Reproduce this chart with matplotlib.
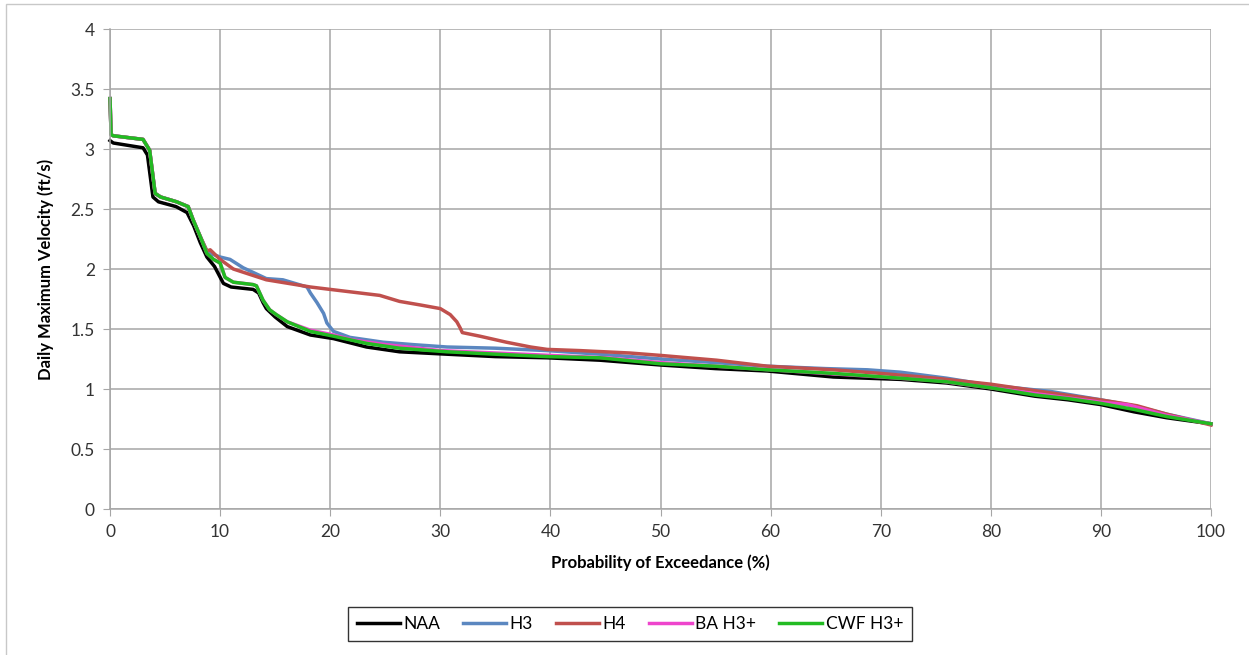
import matplotlib.pyplot as plt
from matplotlib.patches import Rectangle

# exceedance curves
naa_x = [0, 0.3, 3.0, 3.4, 3.9, 4.4, 6, 7, 7.6, 8.2, 8.8, 9.5, 10.3, 11, 13, 13.5, 13.9, 14.2, 15, 16.1, 17,
         18.2, 20.3, 23.3, 26.3, 30.6, 35, 39.7, 44.5, 50, 55, 59.7, 65.7, 71.8, 76, 80, 84, 87, 90, 93, 96, 100]
naa_y = [3.07, 3.05, 3.01, 2.95, 2.6, 2.56, 2.52, 2.47, 2.36, 2.22, 2.1, 2.02, 1.88, 1.85, 1.83, 1.80, 1.72, 1.67,
         1.6, 1.52, 1.49, 1.45, 1.42, 1.35, 1.31, 1.29, 1.27, 1.26, 1.24, 1.20, 1.17, 1.15, 1.10, 1.08, 1.05, 1.0,
         0.94, 0.91, 0.87, 0.81, 0.76, 0.71]

h3_x = [0, 0.1, 0.3, 3.0, 3.6, 4.1, 4.6, 6.05, 7.1, 7.55, 8.2, 8.8, 9.1, 10.0, 10.9, 12.1, 14.2, 15.7, 17.9, 18.2,
        18.8, 19.4, 19.7, 20.3, 21.8, 24.8, 27.5, 30.6, 35, 39.7, 44.5, 50, 55, 59.7, 65, 68.8, 71.8, 76, 80, 85.4,
        88, 90, 93, 96, 100]
h3_y = [3.42, 3.12, 3.11, 3.08, 2.99, 2.63, 2.6, 2.56, 2.52, 2.41, 2.27, 2.15, 2.13, 2.10, 2.08, 2.01, 1.92, 1.91,
        1.85, 1.80, 1.72, 1.63, 1.55, 1.48, 1.43, 1.39, 1.37, 1.35, 1.34, 1.32, 1.29, 1.25, 1.22, 1.19, 1.17, 1.16,
        1.14, 1.09, 1.03, 0.98, 0.94, 0.91, 0.86, 0.79, 0.71]

h4_x = [0, 0.1, 0.3, 3.0, 3.6, 4.1, 4.6, 6.05, 7.1, 7.55, 8.2, 8.8, 9.1, 10.0, 11.2, 14.2, 18.2, 21.8, 24.5, 26.3,
        28.2, 30.0, 30.9, 31.5, 31.8, 32.0, 33.6, 36.0, 38.2, 39.7, 42.7, 47.2, 50, 55.1, 59.7, 65.7, 70, 75, 80,
        86, 89.9, 92, 93.3, 96, 100]
h4_y = [3.42, 3.12, 3.11, 3.08, 2.99, 2.63, 2.6, 2.56, 2.52, 2.41, 2.27, 2.15, 2.16, 2.08, 2.0, 1.91, 1.85, 1.81,
        1.78, 1.73, 1.70, 1.67, 1.62, 1.56, 1.51, 1.47, 1.44, 1.39, 1.35, 1.33, 1.32, 1.30, 1.28, 1.24, 1.19, 1.16,
        1.13, 1.09, 1.04, 0.96, 0.91, 0.88, 0.86, 0.79, 0.70]

ba_x = [0, 0.1, 0.3, 3.0, 3.6, 4.1, 4.6, 6.05, 7.1, 7.55, 8.2, 8.8, 9.4, 10.0, 10.45, 11.2, 13.0, 13.3, 13.9, 14.5,
        15.1, 16.1, 18.2, 20.3, 22, 25, 30, 35, 40, 45, 50, 55, 60, 65, 70, 75, 80, 85, 90, 92.4, 94, 96, 100]
ba_y = [3.42, 3.12, 3.11, 3.08, 2.99, 2.63, 2.6, 2.56, 2.52, 2.41, 2.27, 2.13, 2.08, 2.05, 1.93, 1.89, 1.87, 1.86,
        1.74, 1.66, 1.62, 1.56, 1.49, 1.45, 1.41, 1.37, 1.32, 1.30, 1.28, 1.26, 1.22, 1.19, 1.16, 1.13, 1.10, 1.07,
        1.01, 0.95, 0.89, 0.87, 0.83, 0.78, 0.71]

cwf_x = [0, 0.1, 0.3, 3.0, 3.6, 4.1, 4.6, 6.05, 7.1, 7.55, 8.2, 8.8, 9.4, 10.0, 10.45, 11.2, 13.0, 13.3, 13.9, 14.5,
         15.1, 16.1, 18.2, 20.3, 23.3, 26.3, 30.6, 35, 39.7, 44.5, 50, 55, 59.7, 65.7, 71.8, 76, 80, 84, 87, 90,
         93, 96, 100]
cwf_y = [3.42, 3.12, 3.11, 3.08, 2.99, 2.63, 2.6, 2.56, 2.52, 2.41, 2.27, 2.13, 2.08, 2.05, 1.93, 1.89, 1.87, 1.86,
         1.74, 1.66, 1.62, 1.56, 1.48, 1.44, 1.38, 1.34, 1.31, 1.29, 1.27, 1.26, 1.21, 1.19, 1.16, 1.13, 1.09, 1.06,
         1.01, 0.95, 0.92, 0.88, 0.83, 0.77, 0.71]

plt.rcParams['font.family'] = ['Lato', 'DejaVu Sans']

fig = plt.figure(figsize=(12.49, 6.55), dpi=100)
ax = fig.add_axes([110 / 1249, 1 - 509 / 655, 1101 / 1249, 480 / 655])

# thin frame around the whole chart
fig.patches.append(Rectangle((6 / 1249, -0.05), 1.2, 1 - 4 / 655 + 0.05, transform=fig.transFigure,
                             fill=False, edgecolor='#c8c8c8', linewidth=1.0))

lw = 2.5
series = [(naa_x, naa_y, 'black', 'NAA'),
          (h3_x, h3_y, '#5b87c0', 'H3'),
          (h4_x, h4_y, '#c0504d', 'H4'),
          (ba_x, ba_y, '#ee44cc', 'BA H3+'),
          (cwf_x, cwf_y, '#22bb22', 'CWF H3+')]
for xs, ys, c, name in series:
    ax.plot(xs, ys, color=c, lw=lw, label=name, clip_on=False)

ax.set_xlim(0, 100)
ax.set_ylim(0, 4)
ax.set_xticks(range(0, 101, 10))
ax.set_yticks([0, 0.5, 1, 1.5, 2, 2.5, 3, 3.5, 4])
ax.set_yticklabels(['0', '0.5', '1', '1.5', '2', '2.5', '3', '3.5', '4'])
ax.grid(True, color='#a6a6a6', lw=1.1)
ax.set_axisbelow(True)
for s in ['top', 'right']:
    ax.spines[s].set_visible(False)
for s in ['left', 'bottom']:
    ax.spines[s].set_color('#a6a6a6')
    ax.spines[s].set_linewidth(1.1)
ax.tick_params(axis='both', direction='out', length=5, color='#a6a6a6', labelsize=12.5,
               labelcolor='#333333', pad=6)

ax.set_xlabel('Probability of Exceedance (%)', fontsize=12, fontweight='bold', labelpad=10)
ax.set_ylabel('Daily Maximum Velocity (ft/s)', fontsize=12, fontweight='bold', labelpad=12)

leg = fig.legend(loc='center', bbox_to_anchor=(630 / 1249, 1 - 624 / 655), ncol=5, fontsize=12.5,
                 frameon=True, fancybox=False, handlelength=2.5, columnspacing=1.3, handletextpad=0.2,
                 borderpad=0.5)
leg.get_frame().set_edgecolor('black')
leg.get_frame().set_linewidth(1.0)

fig.savefig('out.png', dpi=100)
